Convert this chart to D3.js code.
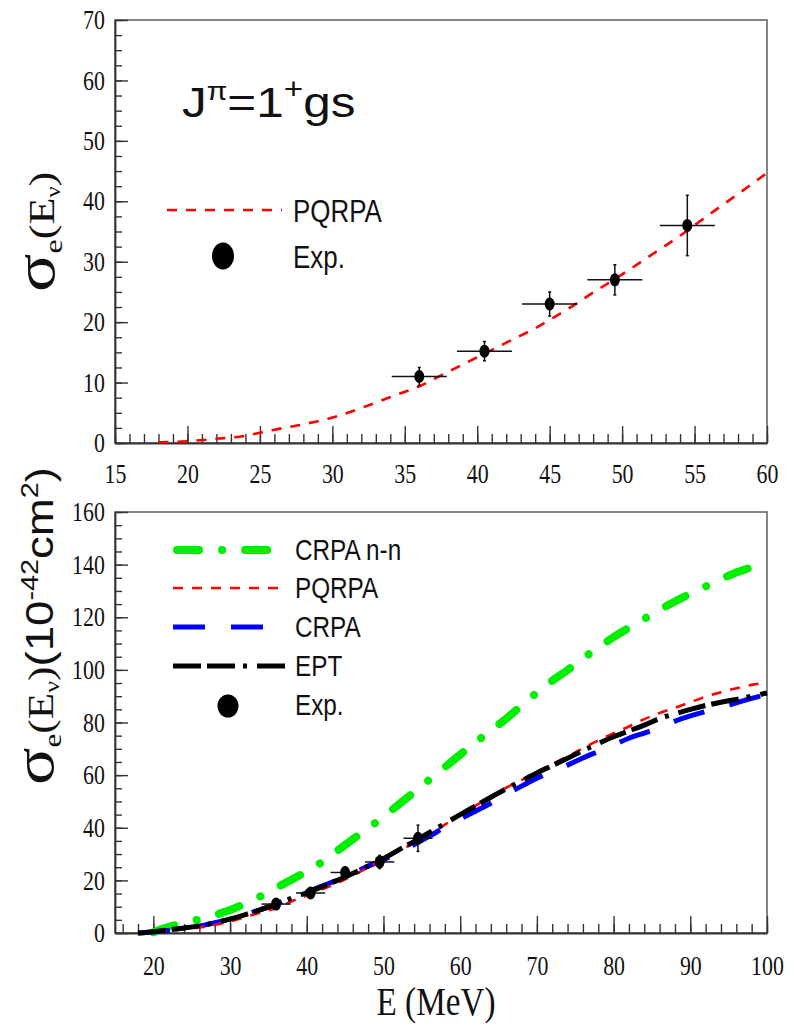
<!DOCTYPE html>
<html>
<head>
<meta charset="utf-8">
<script src="https://cdn.jsdelivr.net/npm/d3@7"></script>
<style>
  body { margin: 0; background: #fff; }
  svg { display: block; }
</style>
</head>
<body>
<svg id="chart"></svg>
<script>
// ---- data ----
var topE      = [18, 20, 22, 24, 25, 26, 28, 30, 32, 34, 36, 38, 40, 42, 44, 46, 48, 50, 52, 54, 56, 58, 60];
var topPQRPA  = [0.1, 0.3, 0.7, 1.2, 1.7, 2.2, 3.1, 4.2, 5.8, 7.6, 9.4, 11.8, 14.2, 16.6, 19.0, 21.8, 24.9, 27.9, 31.1, 34.3, 37.8, 41.2, 44.7];

var botE      = [18, 20, 22, 24, 26, 28, 30, 32, 34, 36, 38, 40, 42, 44, 46, 48, 50, 52, 54, 56, 58,
                 60, 62, 64, 66, 68, 70, 72, 74, 76, 78, 80, 82, 84, 86, 88, 90, 92, 94, 96, 98, 100];
var crpaNN    = [null, 0.3, 2.3, 3.8, 5.2, 6.8, 8.7, 11.2, 14.0, 17.2, 20.2, 23.5, 27.0, 31.3, 35.6, 39.8, 44.2, 48.9, 53.5, 58.3, 63.0,
                 67.8, 72.5, 76.9, 81.5, 86.4, 91.4, 95.9, 99.9, 104.4, 108.4, 112.5, 116.0, 119.4, 122.8, 126.0, 128.9, 131.7, 134.5, 137.0, 139.0, 140.5];
var pqrpa     = [0, 0.3, 0.8, 1.4, 2.1, 3.1, 4.4, 6.1, 7.8, 9.5, 12.0, 14.2, 16.6, 19.0, 21.8, 24.9, 27.9, 31.1, 34.3, 37.8, 41.2,
                 44.8, 48.4, 51.9, 55.2, 58.1, 61.2, 64.2, 67.1, 70.2, 73.2, 75.9, 78.5, 81.3, 83.6, 85.6, 87.7, 89.8, 91.5, 93.0, 94.3, 95.2];
var crpa      = [0, 0.4, 1.0, 1.8, 2.6, 3.9, 5.3, 7.0, 8.9, 11.0, 13.5, 15.6, 17.8, 20.2, 22.8, 25.4, 27.8, 30.6, 33.6, 36.8, 40.2,
                 43.3, 46.3, 49.3, 52.6, 55.8, 58.8, 61.3, 63.8, 66.5, 69.0, 71.5, 74.0, 76.0, 78.0, 80.5, 82.5, 84.2, 85.7, 87.5, 89.2, 90.7];
var ept       = [0, 0.5, 1.2, 1.9, 2.7, 3.9, 5.3, 7.0, 8.9, 11.0, 13.2, 15.3, 17.6, 20.0, 22.6, 25.4, 28.3, 31.6, 34.8, 38.2, 41.6,
                 45.0, 48.3, 51.6, 54.8, 57.8, 60.8, 63.6, 66.4, 69.3, 72.0, 74.6, 76.8, 79.0, 81.5, 83.3, 85.0, 86.5, 87.7, 88.8, 90.0, 91.2];

var expE   = [36, 40.5, 45, 49.5, 54.5];
var expSig = [11.0, 15.2, 23.0, 27.0, 36.0];
var expDx  = [1.9, 1.9, 1.9, 1.9, 1.9];
var expDy  = [1.5, 1.6, 2.0, 2.5, 5.0];

var topXTicks = [15, 20, 25, 30, 35, 40, 45, 50, 55, 60];
var topYTicks = [0, 10, 20, 30, 40, 50, 60, 70];
var botXTicks = [20, 30, 40, 50, 60, 70, 80, 90, 100];
var botYTicks = [0, 20, 40, 60, 80, 100, 120, 140, 160];

var SERIF = "'Liberation Serif', 'Times New Roman', serif";
var SANS = "'Liberation Sans', Arial, sans-serif";
var SQ = 0.81; // text in the figure is squeezed horizontally

var width = 794, height = 1026;

var svg = d3.select("#chart")
  .attr("width", width)
  .attr("height", height);

var x1 = d3.scaleLinear().domain([15, 60]).range([115, 767]);
var y1 = d3.scaleLinear().domain([0, 70]).range([443, 20]);
var x2 = d3.scaleLinear().domain([15, 100]).range([115, 767]);
var y2 = d3.scaleLinear().domain([0, 160]).range([933, 512]);

function range(a, b, step) {
  var out = [];
  for (var v = a; v <= b + 1e-9; v += step) out.push(+v.toFixed(3));
  return out;
}

function drawAxes(x, y, xTicks, xMinor, yTicks, yMinor, xPad) {
  var x0 = x.range()[0], x1r = x.range()[1];
  var yb = y.range()[0], yt = y.range()[1];

  // frame
  svg.append("rect")
    .attr("x", x0).attr("y", yt)
    .attr("width", x1r - x0).attr("height", yb - yt)
    .attr("fill", "none")
    .attr("stroke", "#666")
    .attr("stroke-width", 1.6);

  // minor ticks
  svg.append("g")
    .attr("transform", "translate(0," + yb + ")")
    .call(d3.axisBottom(x).tickValues(xMinor).tickSizeInner(-9).tickSizeOuter(0).tickFormat(""))
    .call(g => g.select(".domain").remove())
    .selectAll("line").attr("stroke", "#333").attr("stroke-width", 1.4);
  svg.append("g")
    .attr("transform", "translate(" + x0 + ",0)")
    .call(d3.axisLeft(y).tickValues(yMinor).tickSizeInner(-7).tickSizeOuter(0).tickFormat(""))
    .call(g => g.select(".domain").remove())
    .selectAll("line").attr("stroke", "#333").attr("stroke-width", 1.4);

  // major ticks + labels
  var gx = svg.append("g")
    .attr("transform", "translate(0," + yb + ")")
    .call(d3.axisBottom(x).tickValues(xTicks).tickSizeInner(-17).tickSizeOuter(0).tickPadding(xPad));
  var gy = svg.append("g")
    .attr("transform", "translate(" + x0 + ",0)")
    .call(d3.axisLeft(y).tickValues(yTicks).tickSizeInner(-13).tickSizeOuter(0).tickPadding(12.5));

  [gx, gy].forEach(function(g) {
    g.attr("font-family", SERIF);
    g.select(".domain").attr("stroke", "#333").attr("stroke-width", 1.8);
    g.selectAll("line").attr("stroke", "#333").attr("stroke-width", 1.4);
    g.selectAll("text")
      .style("font-family", SERIF)
      .attr("font-size", 27)
      .attr("fill", "#111")
      .attr("transform", "scale(" + SQ + ",1)");
  });
}

function squeezedText(x, y, txt, size, family, anchor) {
  return svg.append("text")
    .attr("transform", "translate(" + x + "," + y + ") scale(" + SQ + ",1)")
    .attr("font-family", family)
    .attr("font-size", size)
    .attr("text-anchor", anchor || "start")
    .attr("fill", "#111")
    .text(txt);
}

function richText(transform, parts) {
  var t = svg.append("text")
    .attr("transform", transform)
    .attr("fill", "#111");
  parts.forEach(function(p) {
    t.append("tspan")
      .attr("font-family", p.f)
      .attr("font-size", p.s)
      .attr("dy", p.dy || 0)
      .text(p.t);
  });
  return t;
}

function drawExp(x, y) {
  var g = svg.append("g").attr("stroke", "#111").attr("stroke-width", 1.5);
  expE.forEach(function(e, i) {
    var cx = x(e), cy = y(expSig[i]);
    var xa = x(e - expDx[i]), xb = x(e + expDx[i]);
    var ya = y(expSig[i] - expDy[i]), yb = y(expSig[i] + expDy[i]);
    g.append("line").attr("x1", xa).attr("x2", xb).attr("y1", cy).attr("y2", cy);
    g.append("line").attr("x1", cx).attr("x2", cx).attr("y1", ya).attr("y2", yb);
    g.append("line").attr("x1", cx - 1.5).attr("x2", cx + 1.5).attr("y1", ya).attr("y2", ya);
    g.append("line").attr("x1", cx - 1.5).attr("x2", cx + 1.5).attr("y1", yb).attr("y2", yb);
  });
  svg.append("g").selectAll("ellipse")
    .data(expE)
    .join("ellipse")
    .attr("cx", (d, i) => x(d))
    .attr("cy", (d, i) => y(expSig[i]))
    .attr("rx", 5)
    .attr("ry", 6.5)
    .attr("fill", "#000");
}

function curve(x, y, xs, ys, style) {
  var pts = xs.map((e, i) => [e, ys[i]]);
  var line = d3.line()
    .defined(d => d[1] != null)
    .x(d => x(d[0]))
    .y(d => y(d[1]))
    .curve(d3.curveMonotoneX);
  svg.append("path")
    .datum(pts)
    .attr("d", line)
    .attr("fill", "none")
    .attr("stroke", style.color)
    .attr("stroke-width", style.w)
    .attr("stroke-dasharray", style.dash)
    .attr("stroke-linecap", style.cap || "butt");
}

var stGreen = { color: "#00ee00", w: 8, dash: "22,23,0.1,23", cap: "round" };
var stRed   = { color: "#ff0000", w: 2.6, dash: "10,9" };
var stBlue  = { color: "#0000ff", w: 5, dash: "32,26" };
var stBlack = { color: "#000000", w: 5, dash: "28,6,28,8,4,10" };

// ================= top panel =================
drawAxes(x1, y1, topXTicks, range(15, 60, 1), topYTicks, range(0, 70, 2.5), 21);
curve(x1, y1, topE, topPQRPA, stRed);
drawExp(x1, y1);

// title J^pi = 1^+ gs
richText("translate(182,117) scale(1.15,1)", [
  { t: "J", s: 43, f: SANS },
  { t: "\u03c0", s: 26, f: SANS, dy: -17 },
  { t: "=1", s: 43, f: SANS, dy: 17 },
  { t: "+", s: 29, f: SANS, dy: -18 },
  { t: "gs", s: 43, f: SANS, dy: 18 }
]);

// legend (top)
svg.append("line")
  .attr("x1", 167).attr("x2", 282).attr("y1", 210).attr("y2", 210)
  .attr("stroke", stRed.color).attr("stroke-width", stRed.w).attr("stroke-dasharray", stRed.dash);
squeezedText(293, 222, "PQRPA", 32, SANS);
svg.append("ellipse").attr("cx", 223).attr("cy", 256).attr("rx", 11).attr("ry", 13.5).attr("fill", "#000");
squeezedText(293, 268, "Exp.", 32, SANS);

// y title (top)
richText("translate(54,292) rotate(-90) scale(1.23,1)", [
  { t: "\u03c3", s: 58, f: SERIF },
  { t: "e", s: 26, f: SERIF, dy: 8 },
  { t: "(E", s: 36, f: SERIF, dy: -8 },
  { t: "\u03bd", s: 20, f: SERIF, dy: 6 },
  { t: ")", s: 36, f: SERIF, dy: -6 }
]);

// ================= bottom panel =================
drawAxes(x2, y2, botXTicks, range(16, 100, 2), botYTicks, range(0, 160, 5), 23);
curve(x2, y2, botE, crpaNN, stGreen);
curve(x2, y2, botE, crpa, stBlue);
curve(x2, y2, botE, pqrpa, stRed);
curve(x2, y2, botE, ept, stBlack);
drawExp(x2, y2);

// legend (bottom)
var legendRows = [
  { name: "CRPA n-n", st: stGreen, y: 550 },
  { name: "PQRPA", st: stRed, y: 588 },
  { name: "CRPA", st: stBlue, y: 627 },
  { name: "EPT", st: stBlack, y: 666 }
];
legendRows.forEach(function(r) {
  svg.append("line")
    .attr("x1", r.st.cap === "round" ? 177 : 173).attr("x2", 285)
    .attr("y1", r.y).attr("y2", r.y)
    .attr("stroke", r.st.color)
    .attr("stroke-width", r.st.w)
    .attr("stroke-dasharray", r.st.dash)
    .attr("stroke-linecap", r.st.cap || "butt");
  squeezedText(295, r.y + 10, r.name, 30, SANS);
});
svg.append("ellipse").attr("cx", 228).attr("cy", 706).attr("rx", 10.5).attr("ry", 11.5).attr("fill", "#000");
squeezedText(295, 715, "Exp.", 30, SANS);

// y title (bottom)
richText("translate(53,785) rotate(-90) scale(1.2,1)", [
  { t: "\u03c3", s: 58, f: SERIF },
  { t: "e", s: 26, f: SERIF, dy: 8 },
  { t: "(E", s: 36, f: SERIF, dy: -8 },
  { t: "\u03bd", s: 22, f: SERIF, dy: 6 },
  { t: ")", s: 36, f: SERIF, dy: -6 },
  { t: "(10", s: 38, f: SANS },
  { t: "-42", s: 24, f: SANS, dy: -15 },
  { t: "cm", s: 38, f: SANS, dy: 15 },
  { t: "2", s: 24, f: SANS, dy: -15 },
  { t: ")", s: 38, f: SANS, dy: 15 }
]);

// x title
squeezedText(436, 1015, "E (MeV)", 41, SERIF, "middle");
</script>
</body>
</html>
